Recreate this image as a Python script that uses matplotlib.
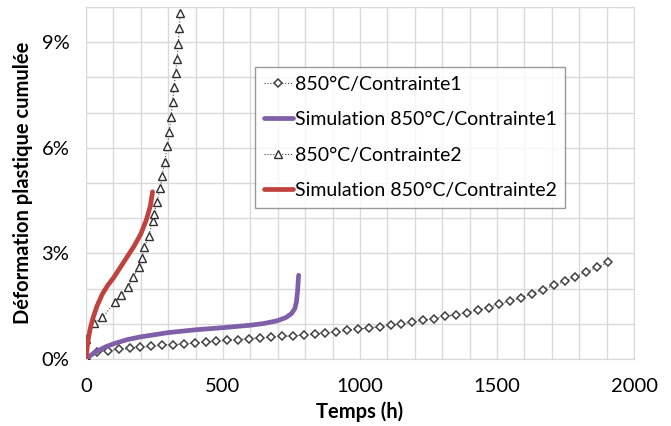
import numpy as np
import matplotlib
matplotlib.use("Agg")
from matplotlib import pyplot as plt
from matplotlib.ticker import MultipleLocator

plt.rcParams['font.family'] = ['Lato', 'DejaVu Sans']

# 850°C / Contrainte1, essai (h, %)
t_c1 = [0, 40, 80, 119, 159, 198, 238, 278, 318, 357, 397, 437, 476, 516, 556,
        595, 635, 675, 715, 754, 794, 834, 873, 913, 953, 993, 1032, 1072, 1112,
        1151, 1191, 1231, 1270, 1310, 1350, 1389, 1429, 1469, 1508, 1548, 1588,
        1627, 1667, 1707, 1747, 1786, 1826, 1866, 1906]
p_c1 = [0, 0.19, 0.24, 0.27, 0.30, 0.33, 0.36, 0.39, 0.41, 0.43, 0.45, 0.48,
        0.50, 0.53, 0.55, 0.58, 0.60, 0.62, 0.64, 0.66, 0.68, 0.70, 0.74, 0.77,
        0.81, 0.85, 0.88, 0.92, 0.96, 1.00, 1.05, 1.10, 1.15, 1.21, 1.26, 1.32,
        1.39, 1.46, 1.56, 1.64, 1.74, 1.86, 1.97, 2.09, 2.21, 2.34, 2.47, 2.61,
        2.75]

# simulation Contrainte1
t_s1 = [0, 20, 40, 70, 100, 150, 200, 300, 400, 500, 600, 650, 700, 730, 750,
        762, 768, 772, 776]
p_s1 = [0, 0.12, 0.22, 0.34, 0.43, 0.55, 0.63, 0.75, 0.83, 0.89, 0.96, 1.01,
        1.09, 1.18, 1.29, 1.43, 1.62, 1.92, 2.38]

# 850°C / Contrainte2, essai
t_c2 = [0, 0, 30, 60, 106, 128, 153, 173, 192, 203, 213, 229, 243, 248, 258,
        271, 278, 287, 297, 304, 310, 316, 321, 327, 332, 337, 340, 344]
p_c2 = [0, 0.58, 1.03, 1.18, 1.62, 1.82, 2.04, 2.32, 2.62, 2.86, 3.17, 3.50,
        3.91, 4.13, 4.45, 4.85, 5.21, 5.61, 6.05, 6.45, 6.88, 7.30, 7.72, 8.12,
        8.53, 8.96, 9.39, 9.82]

# simulation Contrainte2
t_s2 = [0, 3, 8, 15, 25, 40, 60, 80, 100, 125, 150, 175, 200, 220, 235, 243]
p_s2 = [0, 0.25, 0.55, 0.85, 1.15, 1.5, 1.85, 2.1, 2.3, 2.6, 2.9, 3.2, 3.55,
        3.95, 4.35, 4.75]

labels = ['850°C/Contrainte1', 'Simulation 850°C/Contrainte1',
          '850°C/Contrainte2', 'Simulation 850°C/Contrainte2']
x_ticks = [0, 500, 1000, 1500, 2000]
y_ticks = [0, 3, 6, 9]
y_ticklabels = ['0%', '3%', '6%', '9%']

fig = plt.figure(figsize=(6.71, 4.26), dpi=100)
ax = fig.add_axes([86 / 671, 1 - 359 / 426, 548 / 671, 352 / 426])

ax.plot(t_c1, p_c1, ls=':', lw=0.8, color='#404040', marker='D', ms=4.5,
        mfc='white', mec='#404040', mew=1.1, label=labels[0], zorder=3)
ax.plot(t_s1, p_s1, color='#7f5fa8', lw=3.4, solid_capstyle='round',
        label=labels[1], zorder=4)
ax.plot(t_c2, p_c2, ls=':', lw=0.8, color='#404040', marker='^', ms=5.5,
        mfc='white', mec='#303030', mew=1.0, label=labels[2], zorder=3)
ax.plot(t_s2, p_s2, color='#c0423f', lw=3.4, solid_capstyle='round',
        label=labels[3], zorder=4)

ax.set_xlim(0, 2000)
ax.set_ylim(0, 10)
ax.set_xticks(x_ticks)
ax.set_yticks(y_ticks)
ax.set_yticklabels(y_ticklabels)
ax.xaxis.set_minor_locator(MultipleLocator(100))
ax.yaxis.set_minor_locator(MultipleLocator(1))
ax.grid(True, which='both', color='#d9d9d9', lw=1.0, zorder=0)
ax.set_axisbelow(True)
ax.tick_params(which='both', length=0, labelsize=14.5)
ax.tick_params(axis='x', pad=14)
ax.tick_params(axis='y', pad=12)
for s in ax.spines.values():
    s.set_color('#d9d9d9')

ax.set_xlabel('Temps (h)', fontsize=14.5, fontweight='bold', labelpad=4)
ax.set_ylabel('Déformation plastique cumulée', fontsize=14.5,
              fontweight='bold', labelpad=6)

leg = ax.legend(loc='upper left', bbox_to_anchor=(0.308, 0.83), fontsize=14,
                frameon=True, fancybox=False, edgecolor='#808080',
                handlelength=1.5, handletextpad=0.1, labelspacing=0.95,
                borderpad=0.45, borderaxespad=0)
leg.get_frame().set_linewidth(1.0)

fig.savefig('out.png', dpi=100)
